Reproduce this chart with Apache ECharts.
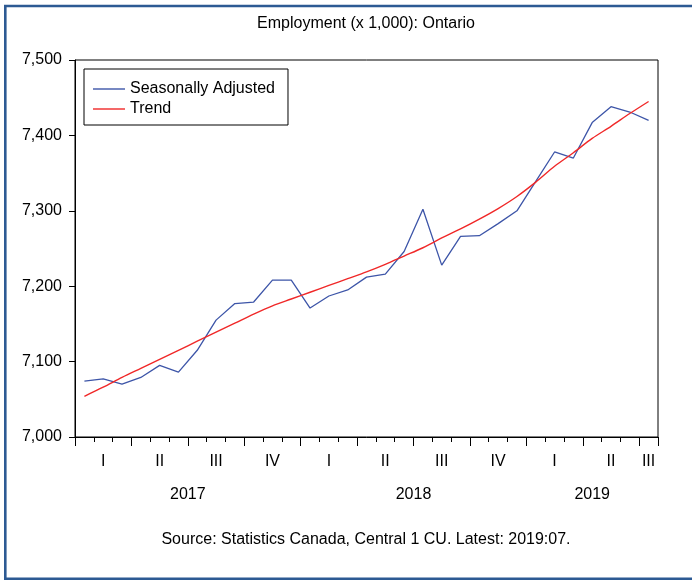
<!DOCTYPE html>
<html style="height: 100%">
<head>
    <title>Employment Ontario</title>
    <meta charset="utf-8">
    <style>
    html, body { margin: 0; background: #fff; overflow: hidden; }
    #container { width: 692px; height: 580px; }
    </style>
</head>
<body>
    <div id="container"></div>
    <script type="text/javascript" src="https://cdn.jsdelivr.net/npm/echarts@6/dist/echarts.min.js"></script>
    <script type="text/javascript">
    // monthly, Jan 2017 .. Jul 2019
    var months = ['2017-01','2017-02','2017-03','2017-04','2017-05','2017-06','2017-07','2017-08','2017-09','2017-10','2017-11','2017-12',
        '2018-01','2018-02','2018-03','2018-04','2018-05','2018-06','2018-07','2018-08','2018-09','2018-10','2018-11','2018-12',
        '2019-01','2019-02','2019-03','2019-04','2019-05','2019-06','2019-07'];
    var seasAdj = [7074, 7077, 7070, 7079, 7095, 7086, 7115, 7155, 7177, 7179, 7208, 7208,
        7171, 7187, 7195, 7212, 7216, 7246, 7302, 7228, 7266, 7267, 7283, 7300,
        7339, 7378, 7370, 7417, 7438, 7431, 7420];
    var trend = [7054, 7066, 7079, 7091, 7103, 7115, 7127, 7139, 7151, 7163, 7174, 7183,
        7192, 7201, 7210, 7219, 7229, 7240, 7251, 7264, 7276, 7289, 7303, 7319,
        7338, 7359, 7377, 7396, 7412, 7429, 7445];
    var quarterLabels = ['I', 'II', 'III', 'IV'];
    var years = ['2017', '2018', '2019'];
    var yearMid = [6, 18, 27.5];   // label spots on the month scale
    var quarterEdges = [0, 3, 6, 9, 12, 15, 18, 21, 24, 27, 30, 31];

    var font = 'Liberation Sans, Arial, sans-serif';
    var myChart = echarts.init(document.getElementById('container'));

    option = {
        animation: false,
        textStyle: { fontFamily: font },
        title: [{
            text: 'Employment (x 1,000): Ontario',
            left: 366, textAlign: 'center', top: 16, padding: 0,
            textStyle: { fontSize: 16, fontWeight: 'normal', color: '#000', fontFamily: font }
        }, {
            text: 'Source: Statistics Canada, Central 1 CU. Latest: 2019:07.',
            left: 366, textAlign: 'center', top: 532, padding: 0,
            textStyle: { fontSize: 16, fontWeight: 'normal', color: '#000', fontFamily: font }
        }],
        legend: {
            orient: 'vertical',
            left: 84, top: 69,
            padding: [12, 13, 8, 9],
            icon: 'rect',
            itemWidth: 32, itemHeight: 1.4, itemGap: 4,
            borderColor: '#000', borderWidth: 1,
            textStyle: { fontSize: 16, color: '#000', fontFamily: font },
            data: ['Seasonally Adjusted', 'Trend']
        },
        graphic: [{
            type: 'polyline',
            shape: { points: [[692, 6], [5.3, 6], [5.3, 578.7], [692, 578.7]] },
            style: { fill: 'none', stroke: '#2d5a93', lineWidth: 2.6 },
            silent: true
        }],
        grid: {
            left: 75, right: 34, top: 60, bottom: 143,
            show: true, borderColor: '#000', borderWidth: 1
        },
        xAxis: [{
            type: 'category',
            data: months,
            boundaryGap: true,
            axisLine: { lineStyle: { color: '#000', width: 1 } },
            axisTick: { show: true, interval: 0, length: 5, lineStyle: { color: '#000' } },
            axisLabel: {
                interval: function (i) { return i % 3 === 1 || i === months.length - 1; },
                formatter: function (v, i) { return quarterLabels[Math.floor((i % 12) / 3)]; },
                fontSize: 16, color: '#000', margin: 17
            },
            splitLine: { show: false }
        }, {
            type: 'value',
            min: 0, max: months.length,
            position: 'bottom',
            axisLine: { show: false },
            axisTick: { show: true, customValues: quarterEdges, length: 9, lineStyle: { color: '#000' } },
            axisLabel: {
                customValues: yearMid,
                formatter: function (v) { return years[Math.floor(v / 12)]; },
                fontSize: 16, color: '#000', margin: 50
            },
            splitLine: { show: false }
        }],
        yAxis: {
            type: 'value',
            min: 7000, max: 7500, interval: 100,
            axisLine: { show: true, lineStyle: { color: '#000' } },
            axisTick: { show: true, length: 6, lineStyle: { color: '#000' } },
            axisLabel: {
                fontSize: 16, color: '#000', margin: 13,
                formatter: function (v) { return v.toLocaleString('en-US'); }
            },
            splitLine: { show: false }
        },
        series: [{
            name: 'Seasonally Adjusted',
            type: 'line',
            data: seasAdj,
            symbol: 'none',
            lineStyle: { color: '#3d55a8', width: 1.3 },
            itemStyle: { color: '#3d55a8' }
        }, {
            name: 'Trend',
            type: 'line',
            data: trend,
            symbol: 'none',
            smooth: 0.3,
            lineStyle: { color: '#f02828', width: 1.4 },
            itemStyle: { color: '#f02828' }
        }]
    };
    myChart.setOption(option);
    </script>
</body>
</html>
